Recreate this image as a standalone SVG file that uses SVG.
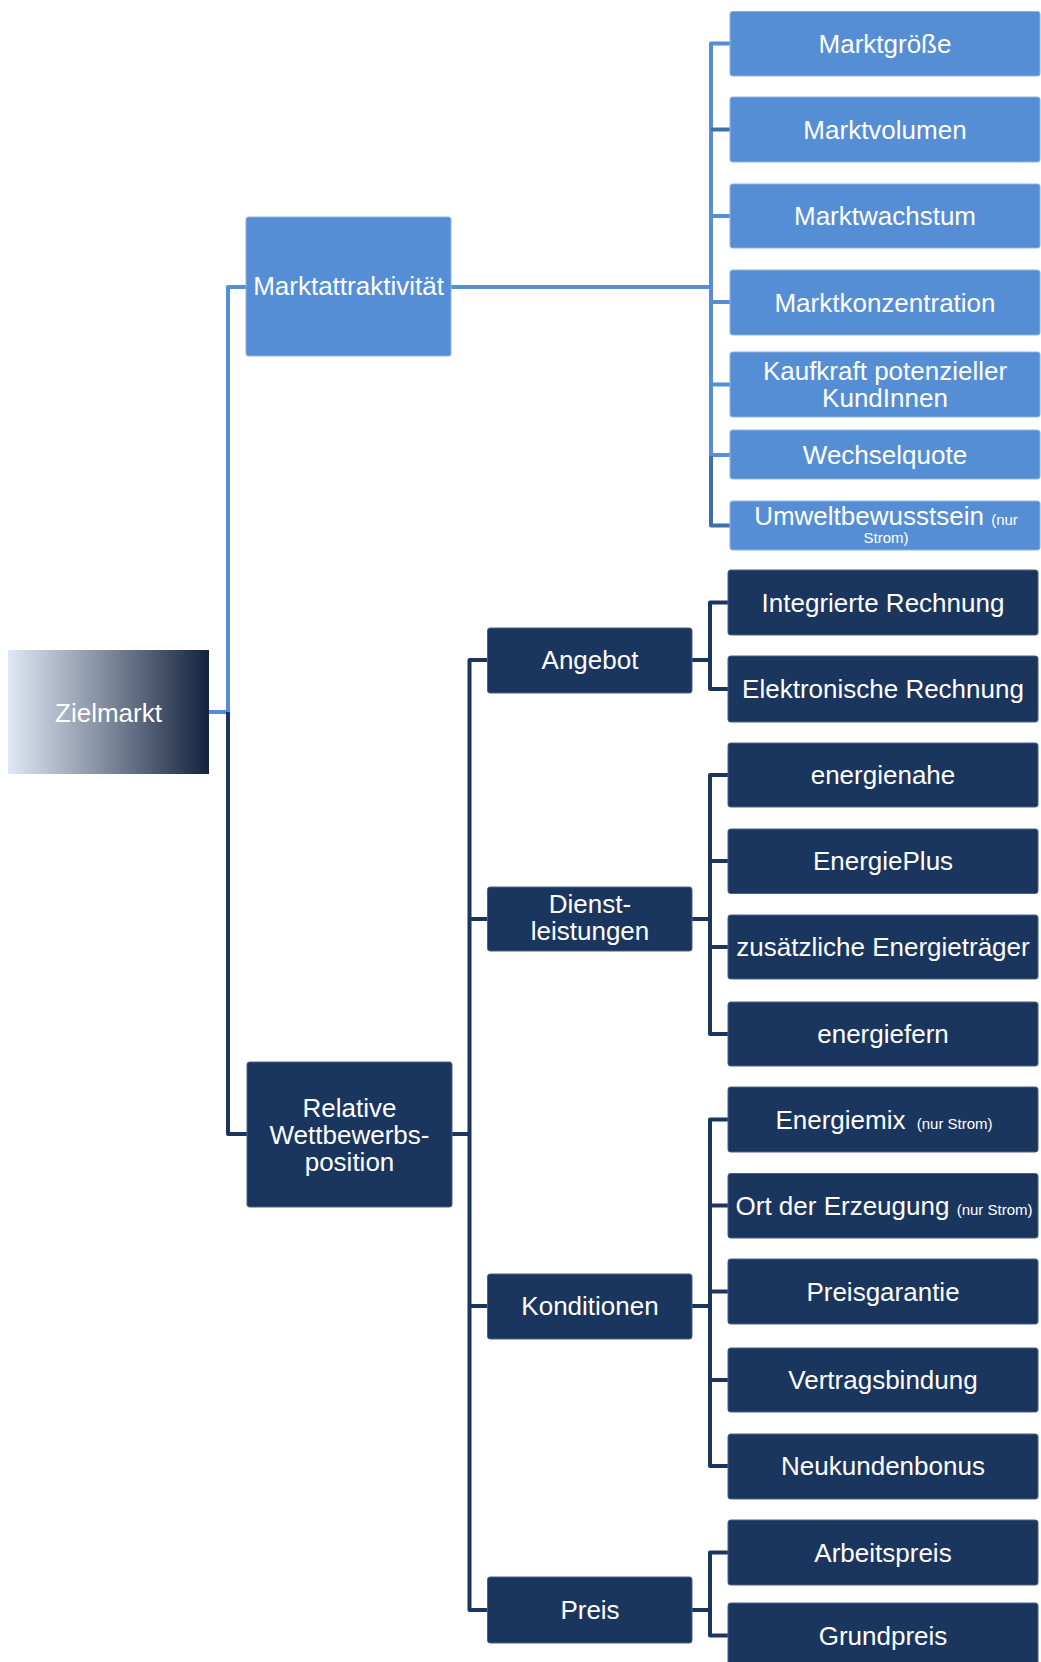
<svg xmlns="http://www.w3.org/2000/svg" width="1041" height="1662" viewBox="0 0 1041 1662">
  <defs>
    <linearGradient id="gz" x1="0" y1="0" x2="1" y2="0">
      <stop offset="0" stop-color="#e0e8f4"/>
      <stop offset="0.5" stop-color="#7d889b"/>
      <stop offset="1" stop-color="#14223e"/>
    </linearGradient>
    <style>
      .lb { fill: #568ed5; stroke: #8fb2e2; stroke-width: 1; }
      .dk { fill: #1b365e; stroke: #4a6184; stroke-width: 1; }
      .t { font-family: "Liberation Sans", Arial, sans-serif; font-size: 26px; fill: #ffffff; text-anchor: middle; }
      .s { font-size: 15px; }
      .cl { fill: none; stroke: #558ed5; stroke-width: 4; stroke-linejoin: round; }
      .cl2 { fill: none; stroke: #3f6eab; stroke-width: 4; stroke-linejoin: round; }
      .cd { fill: none; stroke: #1b365e; stroke-width: 4; stroke-linejoin: round; }
    </style>
  </defs>
  <rect width="1041" height="1662" fill="#ffffff"/>

  <g id="connectors">
    <path class="cl" d="M209,712 H228 V287 H247"/>
    <path class="cl" d="M451,287 H711"/>
    <path class="cl" d="M730,43.5 H711 V456"/>
    <path class="cl" d="M711,216 H730 M711,302 H730 M711,384.5 H730 M711,455 H730"/>
    <path class="cl2" d="M711,129.5 H730"/>
    <path class="cl2" d="M711,456 V525.5 H730"/>
    <path class="cd" d="M228,712 V1134 H247"/>
    <path class="cd" d="M452,1134 H469.5"/>
    <path class="cd" d="M487.5,660 H469.5 V1610 H487.5 M469.5,919 H487.5 M469.5,1306 H487.5"/>
    <path class="cd" d="M692,660 H710 M728,602.5 H710 V689 H728"/>
    <path class="cd" d="M692,919 H710 M728,775 H710 V1034 H728 M710,861 H728 M710,947 H728"/>
    <path class="cd" d="M692,1306 H710 M728,1119.5 H710 V1466 H728 M710,1205.5 H728 M710,1291.5 H728 M710,1380 H728"/>
    <path class="cd" d="M692,1610 H710 M728,1552.5 H710 V1635.5 H728"/>
  </g>

  <g id="zielmarkt">
    <rect x="8" y="650" width="201" height="124" fill="url(#gz)"/>
    <text class="t" x="108.5" y="721.5">Zielmarkt</text>
  </g>

  <g id="marktattraktivitaet">
    <rect class="lb" x="246" y="217" width="205" height="139" rx="2.5"/>
    <text class="t" x="348.5" y="295">Marktattraktivität</text>
  </g>
  <g id="marktgroesse">
    <rect class="lb" x="730" y="11.5" width="310" height="64.5" rx="2.5"/>
    <text class="t" x="885" y="52.5">Marktgröße</text>
  </g>
  <g id="marktvolumen">
    <rect class="lb" x="730" y="97" width="310" height="65" rx="2.5"/>
    <text class="t" x="885" y="138.5">Marktvolumen</text>
  </g>
  <g id="marktwachstum">
    <rect class="lb" x="730" y="184" width="310" height="64" rx="2.5"/>
    <text class="t" x="885" y="225">Marktwachstum</text>
  </g>
  <g id="marktkonzentration">
    <rect class="lb" x="730" y="270" width="310" height="65" rx="2.5"/>
    <text class="t" x="885" y="311.5">Marktkonzentration</text>
  </g>
  <g id="kaufkraft">
    <rect class="lb" x="730" y="352" width="310" height="65" rx="2.5"/>
    <text class="t" x="885" y="379.5">Kaufkraft potenzieller</text>
    <text class="t" x="885" y="406.5">KundInnen</text>
  </g>
  <g id="wechselquote">
    <rect class="lb" x="730" y="430" width="310" height="49" rx="2.5"/>
    <text class="t" x="885" y="463.5">Wechselquote</text>
  </g>
  <g id="umweltbewusstsein">
    <rect class="lb" x="730" y="501" width="310" height="49" rx="2.5"/>
    <text class="t" x="886" y="525">Umweltbewusstsein <tspan class="s">(nur</tspan></text>
    <text class="t s" x="886" y="543">Strom)</text>
  </g>

  <g id="relative-wettbewerbsposition">
    <rect class="dk" x="247" y="1062" width="205" height="145" rx="2.5"/>
    <text class="t" x="349.5" y="1116.5">Relative</text>
    <text class="t" x="349.5" y="1143.5">Wettbewerbs-</text>
    <text class="t" x="349.5" y="1170.5">position</text>
  </g>

  <g id="angebot">
    <rect class="dk" x="487.5" y="628" width="204.5" height="65" rx="2.5"/>
    <text class="t" x="590" y="669">Angebot</text>
  </g>
  <g id="integrierte-rechnung">
    <rect class="dk" x="728" y="570" width="310" height="65" rx="2.5"/>
    <text class="t" x="883" y="611.5">Integrierte Rechnung</text>
  </g>
  <g id="elektronische-rechnung">
    <rect class="dk" x="728" y="656" width="310" height="66" rx="2.5"/>
    <text class="t" x="883" y="698">Elektronische Rechnung</text>
  </g>

  <g id="dienstleistungen">
    <rect class="dk" x="487.5" y="887" width="204.5" height="64" rx="2.5"/>
    <text class="t" x="590" y="913">Dienst-</text>
    <text class="t" x="590" y="940">leistungen</text>
  </g>
  <g id="energienahe">
    <rect class="dk" x="728" y="743" width="310" height="64" rx="2.5"/>
    <text class="t" x="883" y="784">energienahe</text>
  </g>
  <g id="energieplus">
    <rect class="dk" x="728" y="829" width="310" height="64.5" rx="2.5"/>
    <text class="t" x="883" y="870">EnergiePlus</text>
  </g>
  <g id="zusaetzliche-energietraeger">
    <rect class="dk" x="728" y="915" width="310" height="64" rx="2.5"/>
    <text class="t" x="883" y="956">zusätzliche Energieträger</text>
  </g>
  <g id="energiefern">
    <rect class="dk" x="728" y="1002" width="310" height="64" rx="2.5"/>
    <text class="t" x="883" y="1043">energiefern</text>
  </g>

  <g id="konditionen">
    <rect class="dk" x="487.5" y="1274" width="204.5" height="65" rx="2.5"/>
    <text class="t" x="590" y="1315">Konditionen</text>
  </g>
  <g id="energiemix">
    <rect class="dk" x="728" y="1087" width="310" height="65" rx="2.5"/>
    <text class="t" x="884" y="1128.5">Energiemix <tspan class="s" dx="4">(nur Strom)</tspan></text>
  </g>
  <g id="ort-der-erzeugung">
    <rect class="dk" x="728" y="1173.5" width="310" height="64.5" rx="2.5"/>
    <text class="t" x="884" y="1214.5">Ort der Erzeugung <tspan class="s">(nur Strom)</tspan></text>
  </g>
  <g id="preisgarantie">
    <rect class="dk" x="728" y="1259" width="310" height="65" rx="2.5"/>
    <text class="t" x="883" y="1300.5">Preisgarantie</text>
  </g>
  <g id="vertragsbindung">
    <rect class="dk" x="728" y="1348" width="310" height="64" rx="2.5"/>
    <text class="t" x="883" y="1389">Vertragsbindung</text>
  </g>
  <g id="neukundenbonus">
    <rect class="dk" x="728" y="1434" width="310" height="65" rx="2.5"/>
    <text class="t" x="883" y="1475">Neukundenbonus</text>
  </g>

  <g id="preis">
    <rect class="dk" x="487.5" y="1577" width="204.5" height="66" rx="2.5"/>
    <text class="t" x="590" y="1619">Preis</text>
  </g>
  <g id="arbeitspreis">
    <rect class="dk" x="728" y="1520" width="310" height="65" rx="2.5"/>
    <text class="t" x="883" y="1561.5">Arbeitspreis</text>
  </g>
  <g id="grundpreis">
    <rect class="dk" x="728" y="1603" width="310" height="66" rx="2.5"/>
    <text class="t" x="883" y="1644.5">Grundpreis</text>
  </g>
</svg>
